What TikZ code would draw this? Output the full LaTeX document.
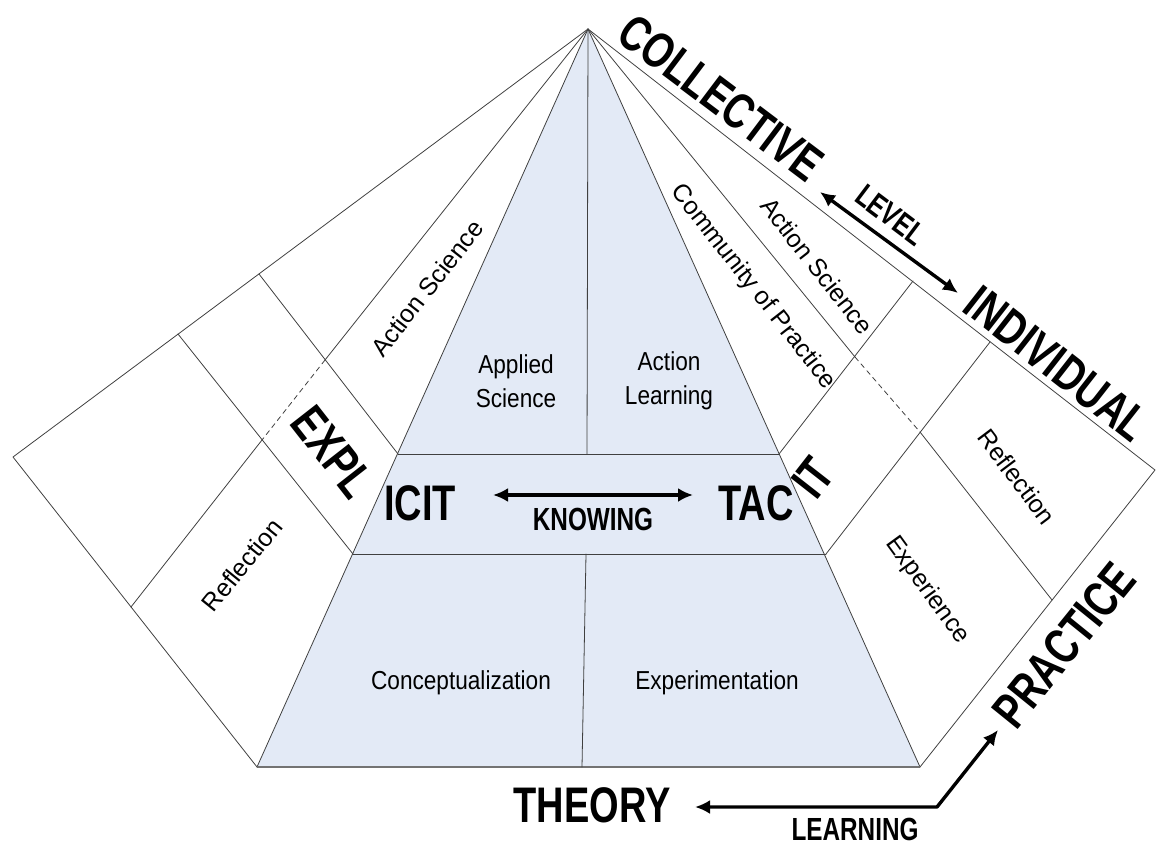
\documentclass[tikz,border=0pt]{standalone}
\usepackage{fontspec}
\setmainfont{Liberation Sans}
\newfontfamily\headfont[FakeStretch=0.76]{Liberation Sans Bold}
\newfontfamily\narrowfont[FakeStretch=0.87]{Liberation Sans}
\usepackage{tikz}
\usetikzlibrary{arrows.meta}
\tikzset{>={Latex[length=15pt,width=14pt]}}
\usepackage{xcolor}
\definecolor{myblue}{HTML}{E3EAF6}
\definecolor{myline}{HTML}{404040}

\begin{document}
\begin{tikzpicture}[x=1pt, y=-1pt,
                    line join=round,
                    wire/.style={myline, line width=0.8pt, line cap=round},
                    hidden/.style={wire, dash pattern=on 5pt off 4pt},
                    dblarrow/.style={black, line width=3.4pt, <->},
                    bigword/.style={font=\headfont\fontsize{50}{50}\selectfont, inner sep=0pt},
                    smallword/.style={font=\headfont\fontsize{32}{32}\selectfont, inner sep=0pt},
                    sidetext/.style={font=\fontsize{25}{30}\selectfont, inner sep=0pt},
                    flattext/.style={font=\narrowfont\fontsize{26}{34}\selectfont, inner sep=0pt, align=center}]
  \useasboundingbox (0,0) rectangle (1158,845);

  % MAIN POINTS
  \coordinate (A)  at (588,29);
  \coordinate (L)  at (13,457);
  \coordinate (R)  at (1155,470);
  \coordinate (BL) at (257,767);
  \coordinate (BR) at (920,767);
  \coordinate (TL) at (398,454);
  \coordinate (TR) at (779,454);
  \coordinate (ML) at (353,554);
  \coordinate (MR) at (826,554);
  \coordinate (TM) at (587,454);
  \coordinate (MM) at (586,554);
  \coordinate (BM) at (582,767);

  % wing points (left, right)
  \coordinate (P4L) at (259,274);
  \coordinate (P3L) at (178,334);
  \coordinate (J1L) at (325,360);
  \coordinate (J2L) at (262,440);
  \coordinate (EL)  at (131,607);
  \coordinate (P4R) at (913,281);
  \coordinate (P3R) at (990,342);
  \coordinate (J1R) at (855,357);
  \coordinate (J2R) at (920,432);
  \coordinate (ER)  at (1052,600);

  % PYRAMID
  \fill[myblue] (A) -- (BL) -- (BR) -- cycle;
  \draw[wire] (BL) -- (A) -- (BR);
  \draw[black!55, line width=1.5pt] (BL) -- (BR);
  \draw[wire] (TL) -- (TR);
  \draw[wire] (ML) -- (MR);
  \draw[wire] (A) -- (TM);
  \draw[wire] (MM) -- (BM);

  % LEFT WING
  \draw[wire] (A) -- (L) -- (BL);
  \draw[wire] (P4L) -- (TL);
  \draw[wire] (P3L) -- (ML);
  \draw[wire] (A) -- (J1L);
  \draw[hidden] (J1L) -- (J2L);
  \draw[wire] (J2L) -- (EL);

  % RIGHT WING
  \draw[wire] (A) -- (R) -- (BR);
  \draw[wire] (P4R) -- (TR);
  \draw[wire] (P3R) -- (MR);
  \draw[wire] (A) -- (J1R);
  \draw[hidden] (J1R) -- (J2R);
  \draw[wire] (J2R) -- (ER);

  % INNER LABELS
  \node[flattext] (applied)  at (516,381) {Applied\\Science};
  \node[flattext] (actlearn) at (669,381) {Action\\Learning};
  \node[flattext] (concept)  at (461,683) {Conceptualization};
  \node[flattext] (experim)  at (717,683) {Experimentation};

  \node[sidetext, rotate=52]  (actsciL) at (427,288) {Action Science};
  \node[sidetext, rotate=51]  (reflL)   at (242,565) {Reflection};
  \node[sidetext, rotate=-52] (commun)  at (753,287) {Community of Practice};
  \node[sidetext, rotate=-52] (actsciR) at (817,266) {Action Science};
  \node[sidetext, rotate=-53] (reflR)   at (1017,477) {Reflection};
  \node[sidetext, rotate=-54] (exper)   at (927,590) {Experience};

  % KNOWING
  \node[bigword, rotate=-52] (expl) at (333,452) {EXPL};
  \node[bigword] (icit) at (420,503) {ICIT};
  \node[bigword] (tac)  at (756,503) {TAC};
  \node[bigword, rotate=52] (it) at (813,478) {IT};
  \coordinate (knowL) at (493,495);
  \coordinate (knowR) at (693,495);
  \draw[dblarrow] (knowL) -- (knowR);
  \node[smallword] (knowing) at (593,519) {KNOWING};

  % LEVEL
  \node[bigword, rotate=-37] (collective) at (721,98) {COLLECTIVE};
  \node[bigword, rotate=-38] (individual) at (1057,364) {INDIVIDUAL};
  \coordinate (levelA) at (820,192);
  \coordinate (levelB) at (958,293);
  \draw[dblarrow] (levelA) -- (levelB);
  \node[smallword, rotate=-37] (level) at (891,215) {LEVEL};

  % LEARNING
  \node[bigword] (theory) at (592,805) {THEORY};
  \node[bigword, rotate=51] (practice) at (1064,645) {PRACTICE};
  \coordinate (learnL) at (695,807);
  \coordinate (learnC) at (937,807);
  \coordinate (learnR) at (998,730);
  \draw[dblarrow] (learnL) -- (learnC) -- (learnR);
  \node[smallword] (learning) at (855,829) {LEARNING};
\end{tikzpicture}
\end{document}
